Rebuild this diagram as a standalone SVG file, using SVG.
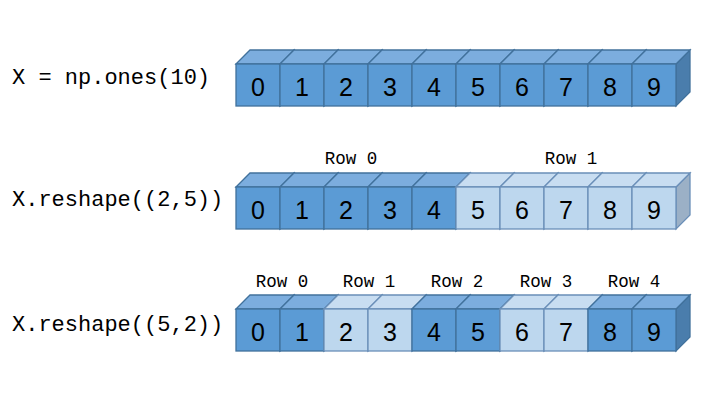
<svg xmlns="http://www.w3.org/2000/svg" xmlns:xlink="http://www.w3.org/1999/xlink" width="720" height="403" viewBox="0 0 720 403">
<style>
.bg{fill:#ffffff}
.df{fill:#5B9BD5;stroke:#41719C;stroke-width:1.3}
.dt{fill:#7CADDE;stroke:#41719C;stroke-width:1.3}
.ds{fill:#4A7DAC;stroke:#41719C;stroke-width:1.3}
.lf{fill:#BDD7EE;stroke:#6A8FB8;stroke-width:1.3}
.lt{fill:#C8DDF1;stroke:#6A8FB8;stroke-width:1.3}
.ls{fill:#9BB0C6;stroke:#6A8FB8;stroke-width:1.3}
.num{font-family:"Liberation Sans","Open Sans",Arial,sans-serif;font-size:25px;fill:#000;text-anchor:middle}
.code{font-family:"Liberation Mono","Courier New",monospace;font-size:22px;fill:#000}
.row{font-family:"Liberation Mono","Courier New",monospace;font-size:17.5px;fill:#000;text-anchor:middle}
</style>
<defs>
<g id="cubeDark">
<polygon class="ds" points="44,0 58,-14 58,28 44,42"/>
<polygon class="dt" points="0,0 14,-14 58,-14 44,0"/>
<rect class="df" x="0" y="0" width="44" height="42"/>
</g>
<g id="cubeLight">
<polygon class="ls" points="44,0 58,-14 58,28 44,42"/>
<polygon class="lt" points="0,0 14,-14 58,-14 44,0"/>
<rect class="lf" x="0" y="0" width="44" height="42"/>
</g>
</defs>
<rect class="bg" x="0" y="0" width="720" height="403"/>

<g id="labels">
<text class="code" x="12" y="84">X = np.ones(10)</text>
<text class="code" x="12" y="206">X.reshape((2,5))</text>
<text class="code" x="12" y="331">X.reshape((5,2))</text>
<text class="row" x="351" y="164">Row 0</text>
<text class="row" x="571" y="164">Row 1</text>
<text class="row" x="282" y="287">Row 0</text>
<text class="row" x="369" y="287">Row 1</text>
<text class="row" x="457" y="287">Row 2</text>
<text class="row" x="546" y="287">Row 3</text>
<text class="row" x="634" y="287">Row 4</text>
</g>

<g id="connectors"></g>

<g id="array1">
<g id="a1c0" transform="translate(236,64)"><use xlink:href="#cubeDark"/><text class="num" x="22" y="32">0</text></g>
<g id="a1c1" transform="translate(280,64)"><use xlink:href="#cubeDark"/><text class="num" x="22" y="32">1</text></g>
<g id="a1c2" transform="translate(324,64)"><use xlink:href="#cubeDark"/><text class="num" x="22" y="32">2</text></g>
<g id="a1c3" transform="translate(368,64)"><use xlink:href="#cubeDark"/><text class="num" x="22" y="32">3</text></g>
<g id="a1c4" transform="translate(412,64)"><use xlink:href="#cubeDark"/><text class="num" x="22" y="32">4</text></g>
<g id="a1c5" transform="translate(456,64)"><use xlink:href="#cubeDark"/><text class="num" x="22" y="32">5</text></g>
<g id="a1c6" transform="translate(500,64)"><use xlink:href="#cubeDark"/><text class="num" x="22" y="32">6</text></g>
<g id="a1c7" transform="translate(544,64)"><use xlink:href="#cubeDark"/><text class="num" x="22" y="32">7</text></g>
<g id="a1c8" transform="translate(588,64)"><use xlink:href="#cubeDark"/><text class="num" x="22" y="32">8</text></g>
<g id="a1c9" transform="translate(632,64)"><use xlink:href="#cubeDark"/><text class="num" x="22" y="32">9</text></g>
</g>

<g id="array2">
<g id="a2c0" transform="translate(236,187)"><use xlink:href="#cubeDark"/><text class="num" x="22" y="32">0</text></g>
<g id="a2c1" transform="translate(280,187)"><use xlink:href="#cubeDark"/><text class="num" x="22" y="32">1</text></g>
<g id="a2c2" transform="translate(324,187)"><use xlink:href="#cubeDark"/><text class="num" x="22" y="32">2</text></g>
<g id="a2c3" transform="translate(368,187)"><use xlink:href="#cubeDark"/><text class="num" x="22" y="32">3</text></g>
<g id="a2c4" transform="translate(412,187)"><use xlink:href="#cubeDark"/><text class="num" x="22" y="32">4</text></g>
<g id="a2c5" transform="translate(456,187)"><use xlink:href="#cubeLight"/><text class="num" x="22" y="32">5</text></g>
<g id="a2c6" transform="translate(500,187)"><use xlink:href="#cubeLight"/><text class="num" x="22" y="32">6</text></g>
<g id="a2c7" transform="translate(544,187)"><use xlink:href="#cubeLight"/><text class="num" x="22" y="32">7</text></g>
<g id="a2c8" transform="translate(588,187)"><use xlink:href="#cubeLight"/><text class="num" x="22" y="32">8</text></g>
<g id="a2c9" transform="translate(632,187)"><use xlink:href="#cubeLight"/><text class="num" x="22" y="32">9</text></g>
</g>

<g id="array3">
<g id="a3c0" transform="translate(236,309)"><use xlink:href="#cubeDark"/><text class="num" x="22" y="32">0</text></g>
<g id="a3c1" transform="translate(280,309)"><use xlink:href="#cubeDark"/><text class="num" x="22" y="32">1</text></g>
<g id="a3c2" transform="translate(324,309)"><use xlink:href="#cubeLight"/><text class="num" x="22" y="32">2</text></g>
<g id="a3c3" transform="translate(368,309)"><use xlink:href="#cubeLight"/><text class="num" x="22" y="32">3</text></g>
<g id="a3c4" transform="translate(412,309)"><use xlink:href="#cubeDark"/><text class="num" x="22" y="32">4</text></g>
<g id="a3c5" transform="translate(456,309)"><use xlink:href="#cubeDark"/><text class="num" x="22" y="32">5</text></g>
<g id="a3c6" transform="translate(500,309)"><use xlink:href="#cubeLight"/><text class="num" x="22" y="32">6</text></g>
<g id="a3c7" transform="translate(544,309)"><use xlink:href="#cubeLight"/><text class="num" x="22" y="32">7</text></g>
<g id="a3c8" transform="translate(588,309)"><use xlink:href="#cubeDark"/><text class="num" x="22" y="32">8</text></g>
<g id="a3c9" transform="translate(632,309)"><use xlink:href="#cubeDark"/><text class="num" x="22" y="32">9</text></g>
</g>
</svg>
